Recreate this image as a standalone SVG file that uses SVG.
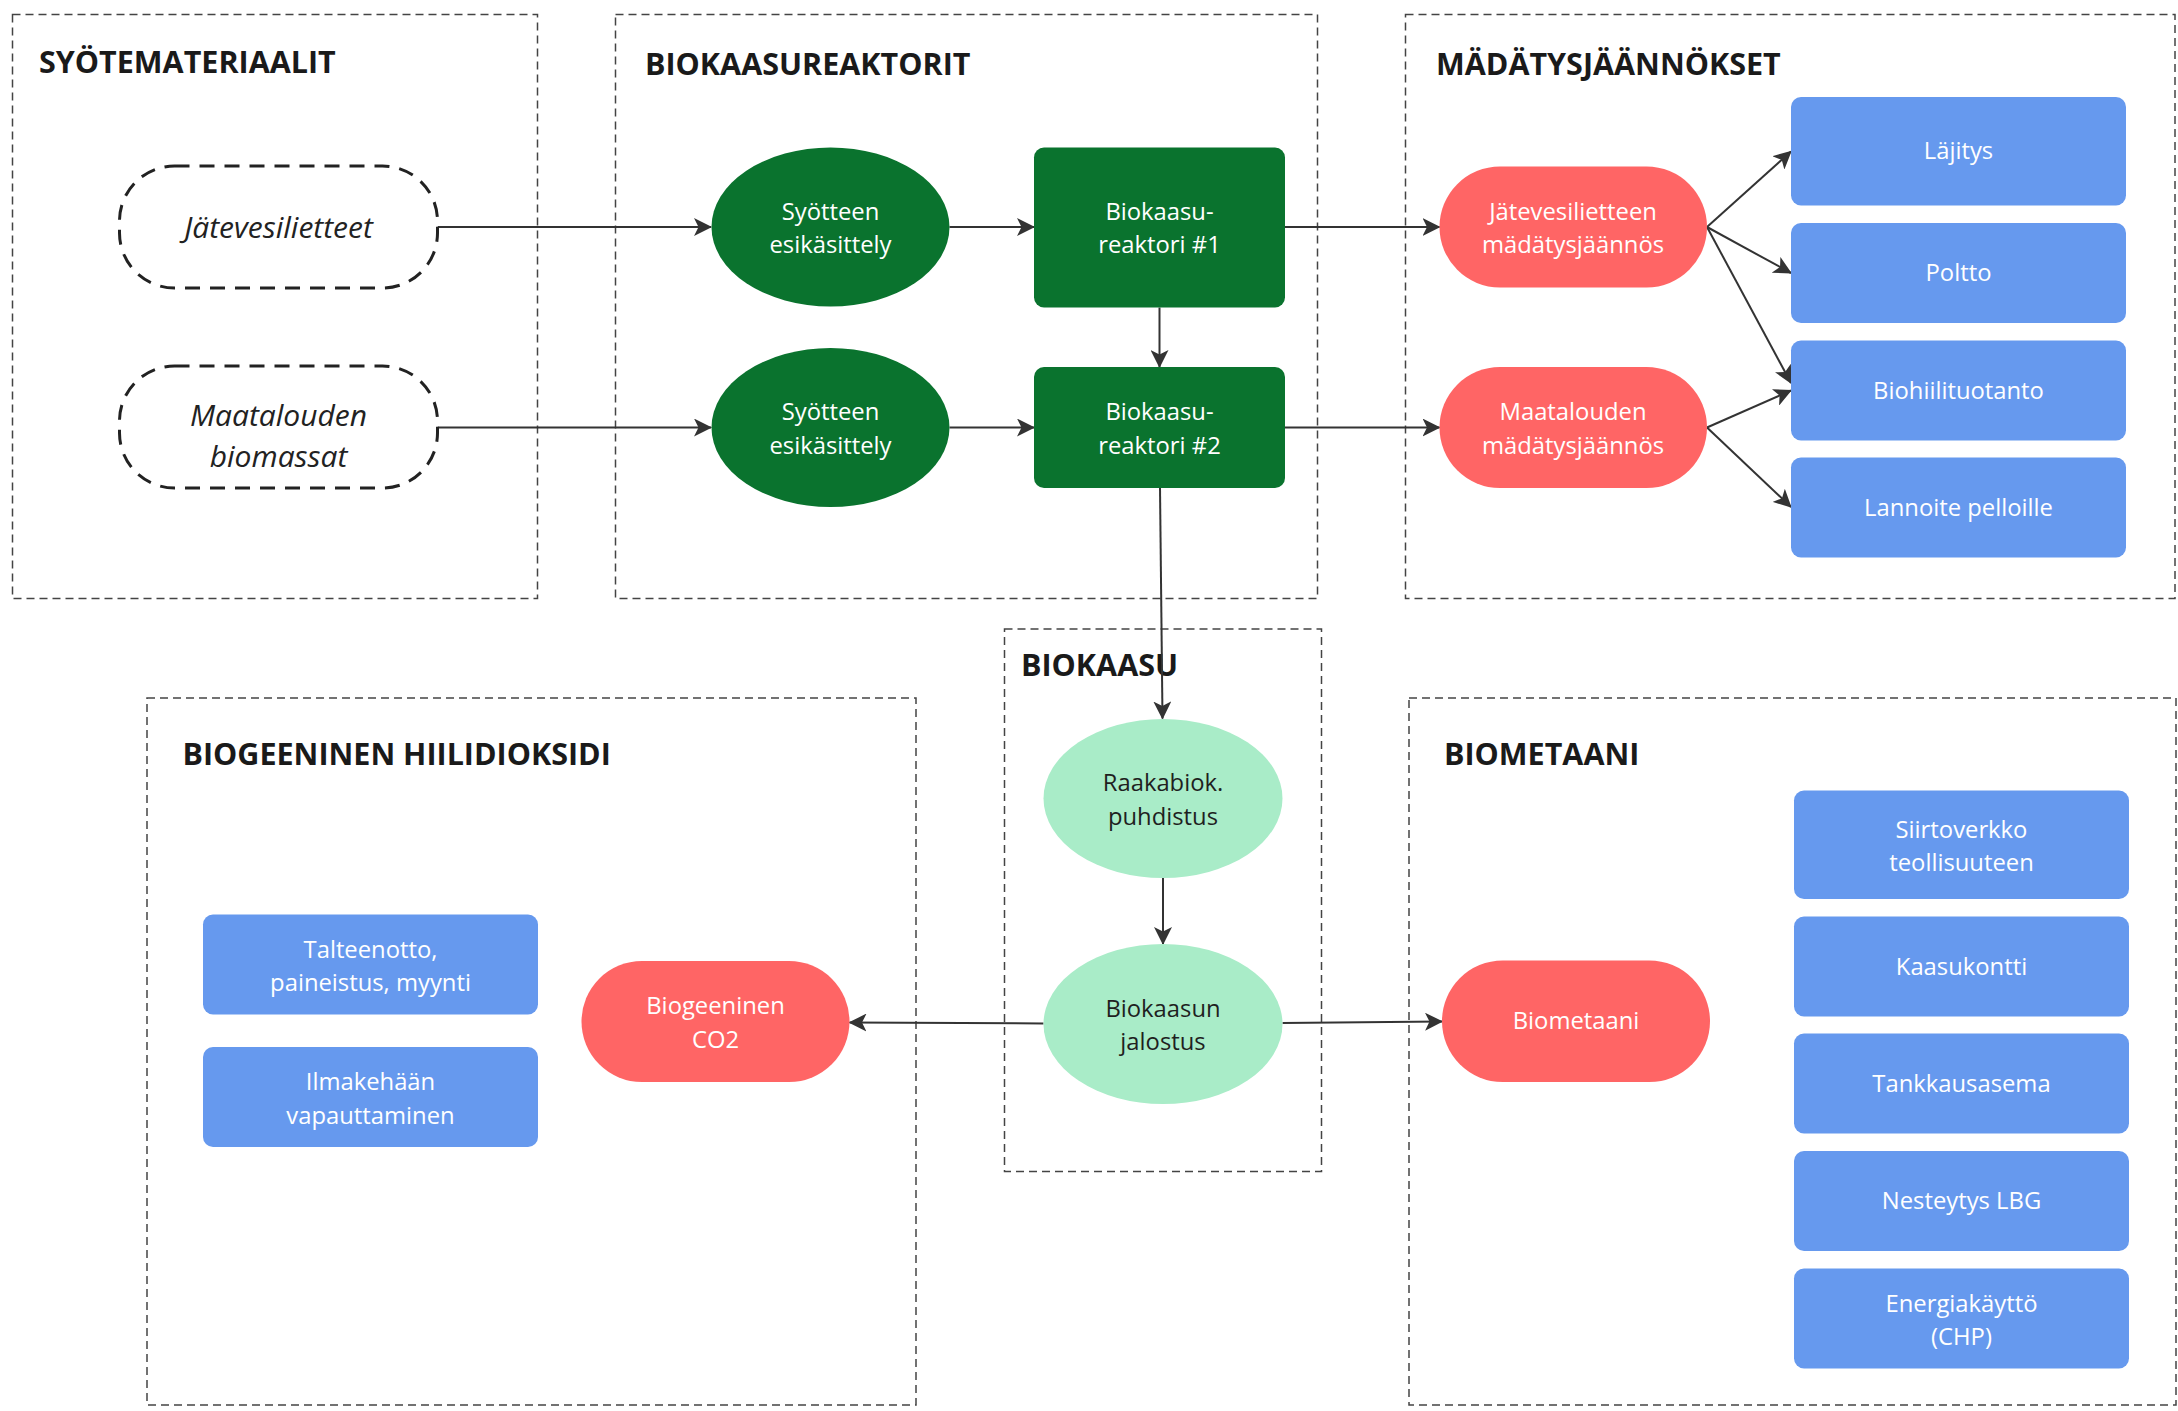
<svg xmlns="http://www.w3.org/2000/svg" width="2178" height="1411" viewBox="0 0 2178 1411">
<style>
text{font-family:"Open Sans","Noto Sans",sans-serif;}
.bg{fill:#ffffff;}
.grp{fill:none;stroke:#444;stroke-width:1.5;stroke-dasharray:8 5;}
.title{font-size:30.5px;font-weight:700;fill:#1a1a1a;}
.src{fill:#ffffff;stroke:#222;stroke-width:3;stroke-dasharray:15 10;}
.srct{font-size:30px;font-style:italic;fill:#222;text-anchor:middle;}
.dg{fill:#0a732e;}
.lg{fill:#a9ecc8;}
.red{fill:#ff6565;}
.blue{fill:#6699ee;}
.wt{font-size:23.8px;fill:#ffffff;text-anchor:middle;}
.dt{font-size:23.8px;fill:#1f1f1f;text-anchor:middle;}
.edge{fill:none;stroke:#333;stroke-width:2;marker-end:url(#arr);}
</style>
<defs>
<marker id="arr" viewBox="0 0 18 18" markerWidth="18" markerHeight="18" refX="17" refY="9" orient="auto" markerUnits="userSpaceOnUse">
<path d="M0,0 L18,9 L0,18 L4.5,9 z" fill="#333"/>
</marker>
</defs>
<rect class="bg" x="0" y="0" width="2178" height="1411"/>

<g id="groups">
<g id="g-syote"><rect class="grp" x="12.5" y="14.5" width="525" height="584"/><text class="title" x="39" y="72.5">SYÖTEMATERIAALIT</text></g>
<g id="g-reaktorit"><rect class="grp" x="615.5" y="14.5" width="702" height="584"/><text class="title" x="645" y="74.5">BIOKAASUREAKTORIT</text></g>
<g id="g-madatys"><rect class="grp" x="1405.5" y="14.5" width="769.5" height="584"/><text class="title" x="1436" y="75">MÄDÄTYSJÄÄNNÖKSET</text></g>
<g id="g-biokaasu"><rect class="grp" x="1004.5" y="629" width="317" height="542.5"/><text class="title" x="1021" y="676">BIOKAASU</text></g>
<g id="g-co2"><rect class="grp" x="147" y="698" width="769" height="707"/><text class="title" x="182.5" y="765">BIOGEENINEN HIILIDIOKSIDI</text></g>
<g id="g-biometaani"><rect class="grp" x="1409" y="698" width="767" height="707"/><text class="title" x="1444" y="765">BIOMETAANI</text></g>
</g>

<g id="connectors">
<path class="edge" d="M437.5,227 L711,227"/>
<path class="edge" d="M437.5,427.5 L711,427.5"/>
<path class="edge" d="M949.5,227 L1034,227"/>
<path class="edge" d="M949.5,427.5 L1034,427.5"/>
<path class="edge" d="M1159.5,307.5 L1159.5,367"/>
<path class="edge" d="M1285,227 L1439.5,227"/>
<path class="edge" d="M1285,427.5 L1439.5,427.5"/>
<path class="edge" d="M1707,227 L1791,151.5"/>
<path class="edge" d="M1707,227 L1791,273"/>
<path class="edge" d="M1707,227 L1791,383"/>
<path class="edge" d="M1707,427.5 L1791,390.5"/>
<path class="edge" d="M1707,427.5 L1791,507"/>
<path class="edge" d="M1160,488 L1162.5,718.5"/>
<path class="edge" d="M1163,878 L1163,944"/>
<path class="edge" d="M1043.5,1023.5 L849.5,1022.5"/>
<path class="edge" d="M1282.5,1023 L1442,1021.5"/>
</g>

<g id="n-jatevesi"><rect class="src" x="119.5" y="166" width="318" height="122" rx="55"/><text class="srct" x="278.5" y="237.5">Jätevesilietteet</text></g>
<g id="n-maatalous"><rect class="src" x="119.5" y="366" width="318" height="122" rx="55"/><text class="srct" x="278.5"><tspan x="278.5" y="425.5">Maatalouden</tspan><tspan x="278.5" y="467">biomassat</tspan></text></g>

<g id="n-esik1"><ellipse class="dg" cx="830.5" cy="227" rx="119" ry="79.5"/><text class="wt"><tspan x="830.5" y="219.5">Syötteen</tspan><tspan x="830.5" y="253">esikäsittely</tspan></text></g>
<g id="n-esik2"><ellipse class="dg" cx="830.5" cy="427.5" rx="119" ry="79.5"/><text class="wt"><tspan x="830.5" y="420">Syötteen</tspan><tspan x="830.5" y="453.5">esikäsittely</tspan></text></g>
<g id="n-reaktori1"><rect class="dg" x="1034" y="147.5" width="251" height="160" rx="10"/><text class="wt"><tspan x="1159.5" y="219.5">Biokaasu-</tspan><tspan x="1159.5" y="253">reaktori #1</tspan></text></g>
<g id="n-reaktori2"><rect class="dg" x="1034" y="367" width="251" height="121" rx="10"/><text class="wt"><tspan x="1159.5" y="420">Biokaasu-</tspan><tspan x="1159.5" y="453.5">reaktori #2</tspan></text></g>

<g id="n-jate-madatys"><rect class="red" x="1439.5" y="166.5" width="267.5" height="121" rx="60.5"/><text class="wt"><tspan x="1573" y="219.5">Jätevesilietteen</tspan><tspan x="1573" y="253">mädätysjäännös</tspan></text></g>
<g id="n-maat-madatys"><rect class="red" x="1439.5" y="367" width="267.5" height="121" rx="60.5"/><text class="wt"><tspan x="1573" y="420">Maatalouden</tspan><tspan x="1573" y="453.5">mädätysjäännös</tspan></text></g>

<g id="n-lajitys"><rect class="blue" x="1791" y="97" width="335" height="108.5" rx="10"/><text class="wt" x="1958.5" y="159">Läjitys</text></g>
<g id="n-poltto"><rect class="blue" x="1791" y="223" width="335" height="100" rx="10"/><text class="wt" x="1958.5" y="281">Poltto</text></g>
<g id="n-biohiili"><rect class="blue" x="1791" y="340.5" width="335" height="100" rx="10"/><text class="wt" x="1958.5" y="398.5">Biohiilituotanto</text></g>
<g id="n-lannoite"><rect class="blue" x="1791" y="457.5" width="335" height="100" rx="10"/><text class="wt" x="1958.5" y="515.5">Lannoite pelloille</text></g>

<g id="n-raakabiok"><ellipse class="lg" cx="1163" cy="798.5" rx="119.5" ry="79.5"/><text class="dt"><tspan x="1163" y="791">Raakabiok.</tspan><tspan x="1163" y="824.5">puhdistus</tspan></text></g>
<g id="n-jalostus"><ellipse class="lg" cx="1163" cy="1024" rx="119.5" ry="80"/><text class="dt"><tspan x="1163" y="1016.5">Biokaasun</tspan><tspan x="1163" y="1050">jalostus</tspan></text></g>

<g id="n-co2"><rect class="red" x="581.5" y="961" width="268" height="121" rx="60.5"/><text class="wt"><tspan x="715.5" y="1014">Biogeeninen</tspan><tspan x="715.5" y="1047.5">CO2</tspan></text></g>
<g id="n-talteenotto"><rect class="blue" x="203" y="914.5" width="335" height="100" rx="10"/><text class="wt"><tspan x="370.5" y="957.5">Talteenotto,</tspan><tspan x="370.5" y="991">paineistus, myynti</tspan></text></g>
<g id="n-ilmakehaan"><rect class="blue" x="203" y="1047" width="335" height="100" rx="10"/><text class="wt"><tspan x="370.5" y="1090">Ilmakehään</tspan><tspan x="370.5" y="1123.5">vapauttaminen</tspan></text></g>

<g id="n-biometaani"><rect class="red" x="1442" y="960.5" width="268" height="121.5" rx="60.75"/><text class="wt" x="1576" y="1029">Biometaani</text></g>
<g id="n-siirtoverkko"><rect class="blue" x="1794" y="790.5" width="335" height="108.5" rx="10"/><text class="wt"><tspan x="1961.5" y="837.5">Siirtoverkko</tspan><tspan x="1961.5" y="871">teollisuuteen</tspan></text></g>
<g id="n-kaasukontti"><rect class="blue" x="1794" y="916.5" width="335" height="100" rx="10"/><text class="wt" x="1961.5" y="974.5">Kaasukontti</text></g>
<g id="n-tankkaus"><rect class="blue" x="1794" y="1033.5" width="335" height="100" rx="10"/><text class="wt" x="1961.5" y="1091.5">Tankkausasema</text></g>
<g id="n-nesteytys"><rect class="blue" x="1794" y="1151" width="335" height="100" rx="10"/><text class="wt" x="1961.5" y="1209">Nesteytys LBG</text></g>
<g id="n-energia"><rect class="blue" x="1794" y="1268.5" width="335" height="100" rx="10"/><text class="wt"><tspan x="1961.5" y="1311.5">Energiakäyttö</tspan><tspan x="1961.5" y="1345">(CHP)</tspan></text></g>
</svg>
